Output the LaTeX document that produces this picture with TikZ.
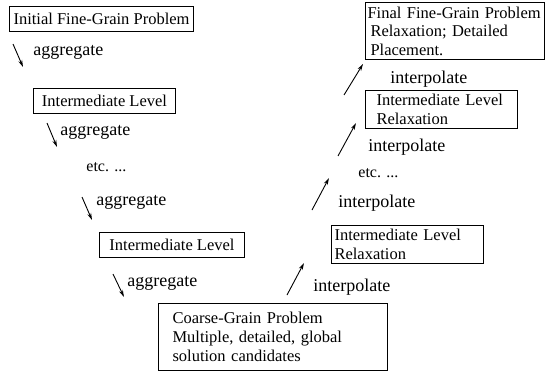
\documentclass[tikz,border=0pt]{standalone}
\usepackage{fontspec}
\setmainfont{Liberation Serif}
\usetikzlibrary{arrows.meta}

\begin{document}
\begin{tikzpicture}[
    x=0.5pt, y=-0.5pt,
    level/.style={
        rectangle,
        draw=black,
        line width=0.5pt,
        inner xsep=1.5pt,
        inner ysep=0pt,
        anchor=north west,
        align=left,
        font=\fontsize{8.25pt}{9.4pt}\selectfont
    },
    phase/.style={
        anchor=west,
        inner sep=0pt,
        font=\fontsize{9pt}{10pt}\selectfont
    },
    dots/.style={
        anchor=west,
        inner sep=0pt,
        font=\fontsize{8pt}{9pt}\selectfont
    },
    move/.style={
        line width=0.45pt,
        -{Stealth[length=3.5pt,width=2pt]}
    }
]
\useasboundingbox (0,0) rectangle (545,375);

% Coarsening side
\node[level, minimum width=92pt, minimum height=12.5pt, align=center] (fine) at (9,6) {Initial Fine-Grain Problem};
\node[level, minimum width=71pt, minimum height=12.5pt, align=center] (mid1) at (33,88) {Intermediate Level};
\node[level, minimum width=72.5pt, minimum height=12.5pt, align=center] (mid2) at (99,232) {Intermediate Level};

\node[phase] (agg1) at (33,52) {aggregate};
\node[phase] (agg2) at (60,132) {aggregate};
\node[dots] (etc1) at (86,167) {etc. ...};
\node[phase] (agg3) at (96,202) {aggregate};
\node[phase] (agg4) at (127,283) {aggregate};

% Coarsest level
\node[level, inner xsep=7pt, text width=100.5pt, minimum height=33.5pt] (coarse) at (158,303)
    {Coarse-Grain Problem\\Multiple, detailed, global\\solution candidates};

% Refinement side
\node[level, text width=73pt, minimum height=19pt] (relax1) at (331,225) {Intermediate Level\\Relaxation};
\node[level, inner xsep=5.5pt, text width=65pt, minimum height=19pt] (relax2) at (365,90) {Intermediate Level\\Relaxation};
\node[level, inner xsep=1pt, text width=87.5pt, minimum height=28.5pt, font=\fontsize{8.25pt}{9.25pt}\selectfont] (final) at (365,2)
    {Final Fine-Grain Problem\\\hspace*{1.5pt}Relaxation; Detailed\\\hspace*{1.5pt}Placement.};

\node[phase] (int1) at (313,287) {interpolate};
\node[phase] (int2) at (338,203) {interpolate};
\node[dots] (etc2) at (358,173) {etc. ...};
\node[phase] (int3) at (368,147) {interpolate};
\node[phase] (int4) at (390,79) {interpolate};

% Arrows
\coordinate (d1s) at (13,44);   \coordinate (d1e) at (23,67);
\coordinate (d2s) at (47,123);  \coordinate (d2e) at (57,147);
\coordinate (d3s) at (82,197);  \coordinate (d3e) at (92,220);
\coordinate (d4s) at (113,274); \coordinate (d4e) at (124,297);
\coordinate (u1s) at (287,295); \coordinate (u1e) at (304,263);
\coordinate (u2s) at (312,210); \coordinate (u2e) at (329,178);
\coordinate (u3s) at (338,156); \coordinate (u3e) at (356,123);
\coordinate (u4s) at (344,95);  \coordinate (u4e) at (363,64);

\foreach \a in {d1,d2,d3,d4,u1,u2,u3,u4}
    \draw[move] (\a s) -- (\a e);

\end{tikzpicture}
\end{document}
